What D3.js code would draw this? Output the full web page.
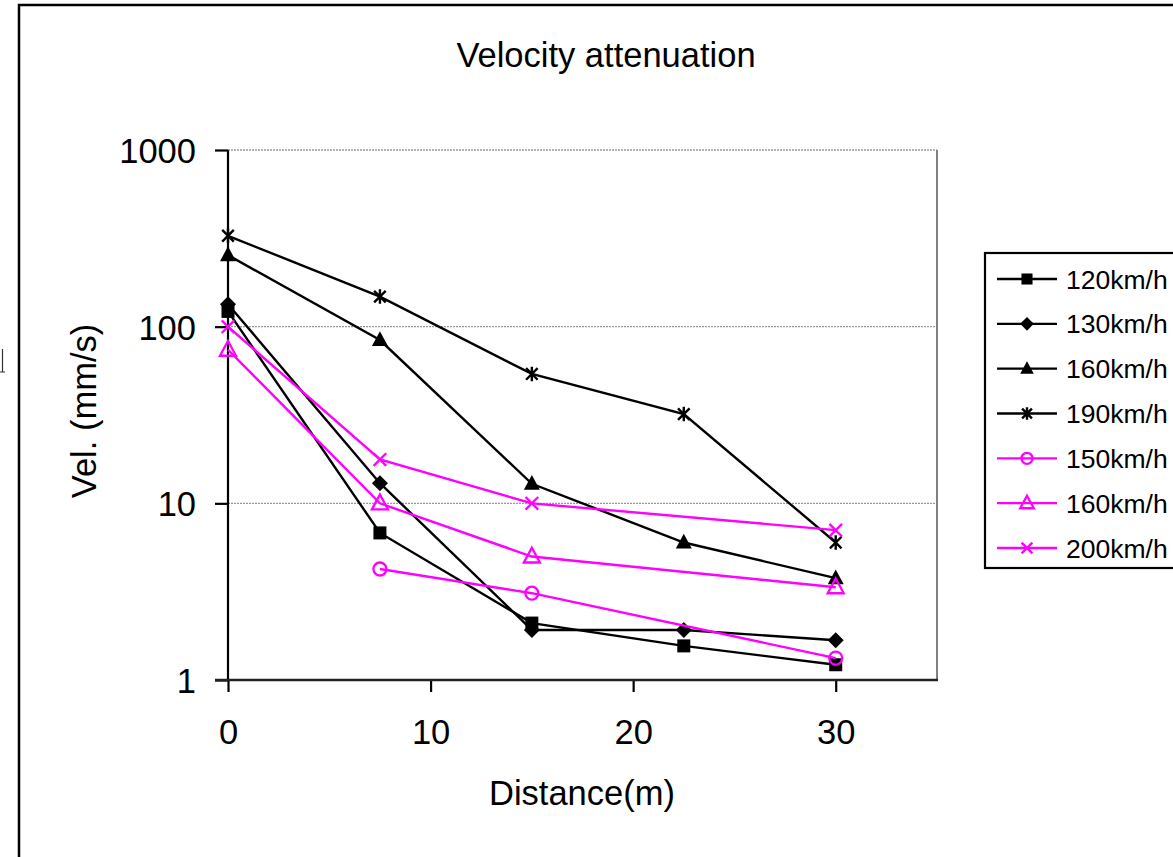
<!DOCTYPE html>
<html>
<head>
<meta charset="utf-8">
<script src="https://cdn.jsdelivr.net/npm/d3@7"></script>
<style>
  body { margin: 0; background: #fff; }
  svg { display: block; font-family: "Liberation Sans", Arial, sans-serif; }
</style>
</head>
<body>
<div id="chart"></div>
<script>
// data
var distances = [0, 7.5, 15, 22.5, 30];
var xTicks = [0, 10, 20, 30];
var yTicks = [1, 10, 100, 1000];

var v120 = [122, 6.8, 2.1, 1.56, 1.22];
var v130 = [134, 13, 1.92, 1.92, 1.68];
var v160 = [254, 84, 12.9, 6.0, 3.77];
var v190 = [327, 148, 54, 32, 6.0];
var v150m = [null, 4.25, 3.1, null, 1.33];
var v160m = [74, 10, 5.0, null, 3.35];
var v200m = [100, 17.7, 10, null, 7.05];

var seriesNames = ["120km/h", "130km/h", "160km/h", "190km/h", "150km/h", "160km/h", "200km/h"];
var seriesValues = [v120, v130, v160, v190, v150m, v160m, v200m];
var seriesColors = ["#000", "#000", "#000", "#000", "#ff00ff", "#ff00ff", "#ff00ff"];
var seriesMarkers = ["square", "diamond", "triangle", "star", "circle", "triangleOpen", "cross"];

var W = 1173, H = 857;
var plot = { left: 228, right: 937, top: 150, bottom: 680 };

var svg = d3.select("#chart").append("svg")
    .attr("width", W)
    .attr("height", H);

// outer chart border (runs off the right and bottom)
svg.append("rect")
    .attr("x", 19).attr("y", 5)
    .attr("width", W + 20).attr("height", H + 20)
    .style("fill", "none").style("stroke", "#000").style("stroke-width", 2.5);

// scrap of a glyph clipped at the far left edge
svg.append("path")
    .attr("d", "M2.5,349V372M0,372H5")
    .style("fill", "none").style("stroke", "#333").style("stroke-width", 1.2);

var x = d3.scaleLinear().domain([0, 35]).range([plot.left, plot.right]);
var y = d3.scaleLog().domain([1, 1000]).range([plot.bottom, plot.top]);

// gridlines
svg.append("g").selectAll("line")
    .data(yTicks.filter(function(d) { return d > 1; }))
    .enter().append("line")
    .attr("x1", plot.left).attr("x2", plot.right)
    .attr("y1", function(d) { return y(d); })
    .attr("y2", function(d) { return y(d); })
    .style("stroke", "#999").style("stroke-width", 1.3)
    .style("stroke-dasharray", "2,1");

// plot area right border
svg.append("line")
    .attr("x1", plot.right).attr("x2", plot.right)
    .attr("y1", plot.top).attr("y2", plot.bottom)
    .style("stroke", "#808080").style("stroke-width", 2);

// axes
var xAxis = d3.axisBottom(x).tickValues(xTicks).tickSize(12).tickPadding(28).tickFormat(d3.format("d"));
var yAxis = d3.axisLeft(y).tickValues(yTicks).tickSize(13).tickPadding(19).tickFormat(d3.format("d"));

var gx = svg.append("g").attr("transform", "translate(0," + plot.bottom + ")").call(xAxis);
var gy = svg.append("g").attr("transform", "translate(" + plot.left + ",0)").call(yAxis);

[gx, gy].forEach(function(g) {
    g.select(".domain").remove();
    g.selectAll(".tick line").style("stroke", "#000").style("stroke-width", 2.2);
    g.selectAll(".tick text").style("font-size", "34.5px").style("fill", "#000")
        .style("font-family", "\"Liberation Sans\", Arial, sans-serif");
});
gy.selectAll(".tick text").attr("dy", "0.36em");
gx.selectAll(".tick text").attr("dy", "0.71em");

svg.append("line")
    .attr("x1", plot.left).attr("x2", plot.left)
    .attr("y1", plot.top).attr("y2", plot.bottom + 1)
    .style("stroke", "#000").style("stroke-width", 2.2);
svg.append("line")
    .attr("x1", plot.left - 13).attr("x2", plot.right + 1)
    .attr("y1", plot.bottom).attr("y2", plot.bottom)
    .style("stroke", "#222").style("stroke-width", 2.4);

// titles
svg.append("text")
    .attr("x", 606).attr("y", 67)
    .attr("text-anchor", "middle")
    .style("font-size", "34.5px")
    .text("Velocity attenuation");

svg.append("text")
    .attr("x", 582).attr("y", 805)
    .attr("text-anchor", "middle")
    .style("font-size", "34.5px")
    .text("Distance(m)");

svg.append("text")
    .attr("transform", "translate(96,411) rotate(-90)")
    .attr("text-anchor", "middle")
    .style("font-size", "34.5px")
    .text("Vel. (mm/s)");

// markers
function drawMarker(g, type, color, s) {
    var r = 6.5 * s;
    if (type == "square") {
        g.append("rect").attr("x", -r).attr("y", -r).attr("width", 2 * r).attr("height", 2 * r)
            .style("fill", color);
    } else if (type == "diamond") {
        var d = 8 * s;
        g.append("path").attr("d", "M0," + (-d) + "L" + d + ",0L0," + d + "L" + (-d) + ",0Z")
            .style("fill", color);
    } else if (type == "triangle" || type == "triangleOpen") {
        var t = 8 * s;
        var p = g.append("path").attr("d", "M0," + (-t * 1.1) + "L" + t + "," + (t * 0.75) + "L" + (-t) + "," + (t * 0.75) + "Z");
        if (type == "triangle") p.style("fill", color);
        else p.style("fill", "none").style("stroke", color).style("stroke-width", 2.3);
    } else if (type == "star") {
        var a = 5.8 * s;
        g.append("path")
            .attr("d", "M" + (-a) + "," + (-a) + "L" + a + "," + a + "M" + (-a) + "," + a + "L" + a + "," + (-a) +
                "M0," + (-a * 1.25) + "L0," + (a * 1.25))
            .style("fill", "none").style("stroke", color).style("stroke-width", 2.4);
    } else if (type == "circle") {
        g.append("circle").attr("r", r).style("fill", "none").style("stroke", color).style("stroke-width", 2.3);
    } else if (type == "cross") {
        var c = 6.3 * s;
        g.append("path")
            .attr("d", "M" + (-c) + "," + (-c) + "L" + c + "," + c + "M" + (-c) + "," + c + "L" + c + "," + (-c))
            .style("fill", "none").style("stroke", color).style("stroke-width", 2.3);
    }
}

var line = d3.line()
    .defined(function(d) { return d.v != null; })
    .x(function(d) { return x(d.x); })
    .y(function(d) { return y(d.v); });

seriesValues.forEach(function(vals, i) {
    var pts = distances.map(function(dx, j) { return { x: dx, v: vals[j] }; })
        .filter(function(d) { return d.v != null; });
    var g = svg.append("g");
    g.append("path")
        .datum(pts)
        .attr("d", line)
        .style("fill", "none")
        .style("stroke", seriesColors[i])
        .style("stroke-width", 2.4);
    pts.forEach(function(d) {
        var m = g.append("g").attr("transform", "translate(" + x(d.x) + "," + y(d.v) + ")");
        drawMarker(m, seriesMarkers[i], seriesColors[i], 1);
    });
});

// legend
var legend = svg.append("g");
legend.append("rect")
    .attr("x", 985).attr("y", 253)
    .attr("width", 300).attr("height", 315)
    .style("fill", "#fff").style("stroke", "#000").style("stroke-width", 2.2);

var legendY = d3.scalePoint().domain(d3.range(seriesNames.length)).range([279, 548]);

seriesNames.forEach(function(name, i) {
    var ly = legendY(i);
    legend.append("line")
        .attr("x1", 997).attr("x2", 1057)
        .attr("y1", ly).attr("y2", ly)
        .style("stroke", seriesColors[i]).style("stroke-width", 2.4);
    var m = legend.append("g").attr("transform", "translate(1027," + ly + ")");
    drawMarker(m, seriesMarkers[i], seriesColors[i], 0.85);
    legend.append("text")
        .attr("x", 1066).attr("y", ly)
        .attr("dy", "0.36em")
        .style("font-size", "26.5px")
        .text(name);
});
</script>
</body>
</html>
